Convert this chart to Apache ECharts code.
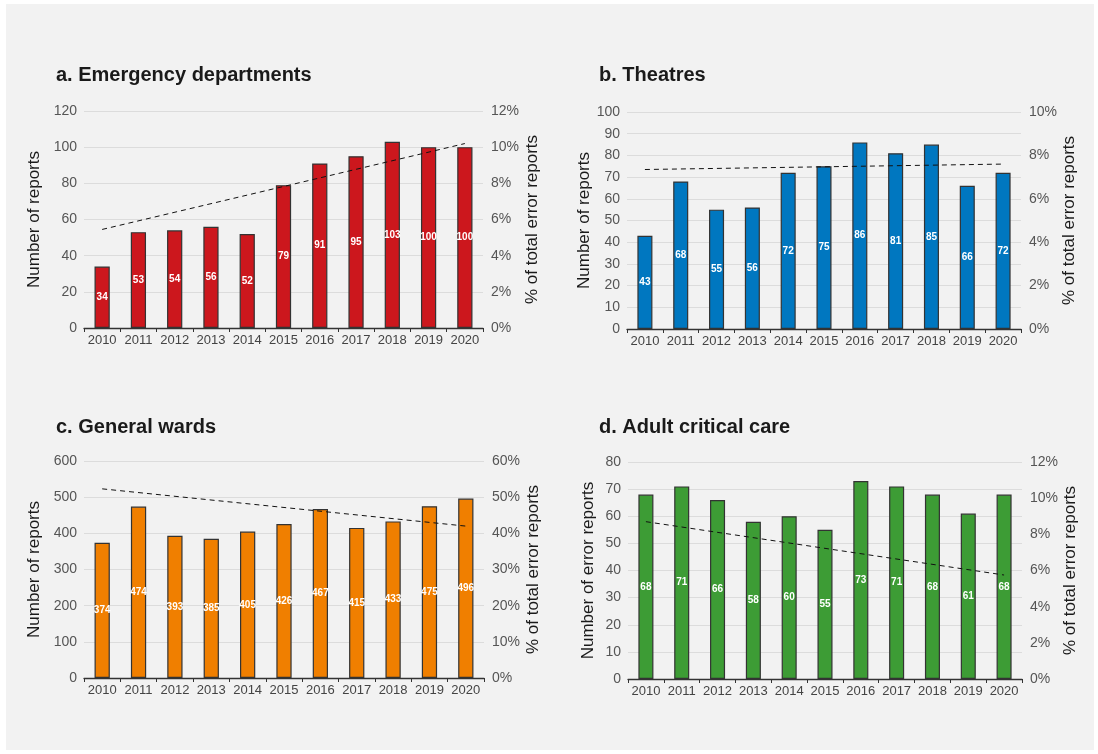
<!DOCTYPE html>
<html>
<head>
<meta charset="utf-8">
<script src="https://cdn.jsdelivr.net/npm/echarts@6/dist/echarts.min.js"></script>
<style>
  html, body { margin: 0; padding: 0; background: #ffffff; }
  #panel { position: absolute; left: 6px; top: 4px; width: 1088px; height: 746px; background: #f2f2f2; }
  #chart { position: absolute; left: 0; top: 0; width: 1098px; height: 754px; }
</style>
</head>
<body>
<div id="panel"></div>
<div id="chart"></div>
<script>
// Error reports by clinical setting, 2010-2020
const years = ['2010', '2011', '2012', '2013', '2014', '2015', '2016', '2017', '2018', '2019', '2020'];

const emergencyReports = [34, 53, 54, 56, 52, 79, 91, 95, 103, 100, 100];
const theatreReports   = [43, 68, 55, 56, 72, 75, 86, 81, 85, 66, 72];
const wardReports      = [374, 474, 393, 385, 405, 426, 467, 415, 433, 475, 496];
const criticalReports  = [68, 71, 66, 58, 60, 55, 73, 71, 68, 61, 68];

// Trend of share of all error reports (%), first and last year
const emergencyTrend = [5.45, 10.2];
const theatreTrend   = [7.35, 7.6];
const wardTrend      = [52.3, 42.0];
const criticalTrend  = [8.7, 5.75];

const panelTitles = ['a. Emergency departments', 'b. Theatres', 'c. General wards', 'd. Adult critical care'];
const leftAxisNames = ['Number of reports', 'Number of reports', 'Number of reports', 'Number of error reports'];
const rightAxisName = '% of total error reports';

const FONT = '"Liberation Sans", Arial, Helvetica, sans-serif';

const panels = [
  { title: panelTitles[0], bars: emergencyReports, trend: emergencyTrend, color: '#cc171d',
    left: { max: 120, interval: 20 }, right: { max: 12, interval: 2 },
    grid: { left: 84, top: 111, width: 399, height: 217 }, titlePos: { left: 51, top: 60 },
    nameGapL: 41.5, nameGapR: 40.5 },
  { title: panelTitles[1], bars: theatreReports, trend: theatreTrend, color: '#0077c0',
    left: { max: 100, interval: 10 }, right: { max: 10, interval: 2 },
    grid: { left: 627, top: 112, width: 394, height: 217 }, titlePos: { left: 594, top: 60 },
    nameGapL: 30.5, nameGapR: 37.5 },
  { title: panelTitles[2], bars: wardReports, trend: wardTrend, color: '#f07f00',
    left: { max: 600, interval: 100 }, right: { max: 60, interval: 10 },
    grid: { left: 84, top: 461, width: 400, height: 217 }, titlePos: { left: 51, top: 412 },
    nameGapL: 41.5, nameGapR: 40.5 },
  { title: panelTitles[3], bars: criticalReports, trend: criticalTrend, color: '#3d9c35',
    left: { max: 80, interval: 10 }, right: { max: 12, interval: 2 },
    grid: { left: 628, top: 462, width: 394, height: 217 }, titlePos: { left: 594, top: 412 },
    nameGapL: 31.5, nameGapR: 36.5 }
];

function trendSeries(pair) {
  const d = years.map(() => null);
  d[0] = pair[0];
  d[d.length - 1] = pair[1];
  return d;
}

const option = {
  backgroundColor: 'transparent',
  animation: false,
  textStyle: { fontFamily: FONT },
  title: [],
  grid: [],
  xAxis: [],
  yAxis: [],
  series: []
};

panels.forEach((p, i) => {
  option.title.push({
    text: p.title, left: p.titlePos.left, top: p.titlePos.top,
    textStyle: { fontFamily: FONT, fontSize: 20, fontWeight: 'bold', color: '#1a1a1a' }
  });
  option.grid.push(Object.assign({ containLabel: false }, p.grid));
  option.xAxis.push({
    type: 'category', gridIndex: i, data: years,
    axisLine: { lineStyle: { color: '#333', width: 1.3 } },
    axisTick: { show: true, length: 4, lineStyle: { color: '#333' } },
    axisLabel: { color: '#444', fontSize: 13, margin: 6, fontFamily: FONT, interval: 0 }
  });
  option.yAxis.push({
    type: 'value', gridIndex: i, min: 0, max: p.left.max, interval: p.left.interval,
    name: leftAxisNames[i], nameLocation: 'middle', nameGap: p.nameGapL,
    nameTextStyle: { fontSize: 17, color: '#1a1a1a', fontFamily: FONT },
    axisLine: { show: false }, axisTick: { show: false },
    axisLabel: { color: '#555', fontSize: 14, margin: 7, fontFamily: FONT },
    splitLine: { lineStyle: { color: '#dcdcdc', width: 1 } }
  });
  option.yAxis.push({
    type: 'value', gridIndex: i, position: 'right', min: 0, max: p.right.max, interval: p.right.interval,
    name: rightAxisName, nameLocation: 'middle', nameGap: p.nameGapR, nameRotate: 90,
    nameTextStyle: { fontSize: 17, color: '#1a1a1a', fontFamily: FONT },
    axisLine: { show: false }, axisTick: { show: false },
    axisLabel: { color: '#555', fontSize: 14, margin: 8, fontFamily: FONT, formatter: '{value}%' },
    splitLine: { show: false }
  });
  option.series.push({
    type: 'bar', xAxisIndex: i, yAxisIndex: 2 * i, data: p.bars, barWidth: '42%',
    itemStyle: { color: p.color, borderColor: '#333', borderWidth: 1.2 },
    label: { show: true, position: 'inside', color: '#fff', fontSize: 10, fontWeight: 'bold', fontFamily: FONT }
  });
  option.series.push({
    type: 'line', xAxisIndex: i, yAxisIndex: 2 * i + 1, data: trendSeries(p.trend),
    connectNulls: true, showSymbol: false, symbol: 'none', z: 5,
    lineStyle: { color: '#111', width: 1, type: [5, 4] }
  });
});

const chart = echarts.init(document.getElementById('chart'), null, { renderer: 'canvas' });
chart.setOption(option);
</script>
</body>
</html>
